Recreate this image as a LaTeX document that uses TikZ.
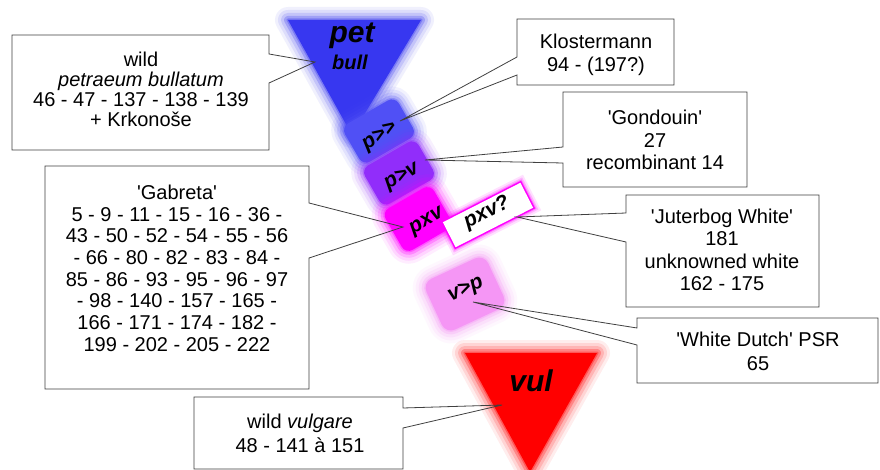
\documentclass[tikz,border=0pt]{standalone}
\usepackage{fontspec}
\setmainfont{Liberation Sans}
\newcommand\sq{\textquotesingle}
\definecolor{petblue}{RGB}{55,55,240}
\definecolor{pblue}{RGB}{80,80,245}
\definecolor{pviolet}{RGB}{145,45,250}
\definecolor{pmag}{RGB}{255,0,255}
\definecolor{ppink}{RGB}{245,150,245}
\definecolor{vred}{RGB}{255,0,0}
\definecolor{linegray}{RGB}{64,64,64}
\newcommand\softfill[2]{%
  \foreach \w/\o in {26/0.07,20/0.1,14/0.15,8/0.25,3/0.35}{%
    \path[draw=#1,line width=\w pt,draw opacity=\o,line join=round] #2;}%
  \fill[#1] #2;}
\tikzset{
  call/.style={draw=linegray, line width=0.8pt, line join=miter},
  calltext/.style={align=center, inner sep=0pt, anchor=base},
  lab/.style={font=\fontsize{21}{24}\selectfont\bfseries\itshape, inner sep=0pt},
}
\begin{document}
\begin{tikzpicture}[x=1pt,y=-1pt]
\useasboundingbox[fill=white] (0,0) rectangle (880,470);
% coloured shapes
\softfill{petblue}{(288,20) -- (421,20) -- (352,135) -- cycle}
\begin{scope}[shift={(379,131)},rotate=30]
  \softfill{pblue}{[rounded corners=8pt] (-31,-22) rectangle (31,22)}
\end{scope}
\begin{scope}[shift={(399,173)},rotate=30]
  \softfill{pviolet}{[rounded corners=8pt] (-31,-22) rectangle (31,22)}
\end{scope}
\begin{scope}[shift={(418,219)},rotate=30]
  \softfill{pmag}{[rounded corners=8pt] (-28,-24) rectangle (28,24)}
\end{scope}
\begin{scope}[shift={(465,294)},rotate=25]
  \softfill{ppink}{[rounded corners=10pt] (-34,-28) rectangle (34,28)}
\end{scope}
\softfill{vred}{(465,353) -- (597,353) -- (530,472) -- cycle}
\begin{scope}[shift={(488,215)},rotate=27]
  \foreach \w/\o in {10/0.12,6/0.2,3/0.35}{%
    \draw[pmag,line width=\w pt,opacity=\o] (-44.5,-15) rectangle (44.5,15);}
  \fill[pmag] (-45,-15.5) rectangle (45,15.5);
  \fill[white] (-43.5,-14) rectangle (43.5,14);
\end{scope}
% labels
\node[font=\fontsize{30}{30}\selectfont\bfseries\itshape, anchor=base] (pet) at (352,43) {pet};
\node[font=\fontsize{20}{20}\selectfont\bfseries\itshape, anchor=base] (bull) at (350,70) {bull};
\node[font=\fontsize{30}{30}\selectfont\bfseries\itshape, anchor=base] (vul) at (531,391) {vul};
\node[lab, rotate=33] (pgg) at (380,137) {p>{}>};
\node[lab, rotate=30] (pgv) at (402,177) {p>v};
\node[lab, rotate=30] (pxv) at (427,222) {pxv};
\node[lab, rotate=27] (pxvq) at (487,213) {pxv?};
\node[lab, rotate=25] (vgp) at (466,290) {v>p};
% callout tips
\coordinate (tipPet) at (315,62);
\coordinate (tipK) at (400,121);
\coordinate (tipG) at (425,160);
\coordinate (tipGab) at (403,227);
\coordinate (tipJ) at (517,217);
\coordinate (tipW) at (473,302);
\coordinate (tipV) at (502,405);
% callouts
\draw[call] (12,35) -- (269,35) -- (269,54) -- (tipPet) -- (269,83) -- (269,150) -- (12,150) -- cycle;
\draw[call] (517,19) -- (674,19) -- (674,85) -- (517,85) -- (517,75) -- (tipK) -- (517,57) -- cycle;
\draw[call] (563,92) -- (747,92) -- (747,187) -- (563,187) -- (563,163) -- (tipG) -- (563,147) -- cycle;
\draw[call] (45,166) -- (309,166) -- (309,203) -- (tipGab) -- (309,258) -- (309,389) -- (45,389) -- cycle;
\draw[call] (626,195) -- (819,195) -- (819,307) -- (626,307) -- (626,242) -- (tipJ) -- (626,213) -- cycle;
\draw[call] (637,318) -- (878,318) -- (878,383) -- (637,383) -- (637,345) -- (tipW) -- (637,328) -- cycle;
\draw[call] (194,397) -- (403,397) -- (403,408) -- (tipV) -- (403,428) -- (403,469) -- (194,469) -- cycle;
% callout texts (anchored at the baseline of the last line)
\node[calltext, font=\fontsize{20}{20}\selectfont] (tPet) at (141,127) {wild\\\textit{petraeum bullatum}\\46 - 47 - 137 - 138 - 139\\+ Krkonoše};
\node[calltext, font=\fontsize{20}{23.3}\selectfont] (tK) at (596,71.7) {Klostermann\\94 - (197?)};
\node[calltext, font=\fontsize{20}{22.5}\selectfont] (tG) at (655,170) {\sq Gondouin\sq\\27\\recombinant 14};
\node[calltext, font=\fontsize{20}{21.7}\selectfont] (tGab) at (177,351.2) {\sq Gabreta\sq\\5 - 9 - 11 - 15 - 16 - 36 -\\43 - 50 - 52 - 54 - 55 - 56\\- 66 - 80 - 82 - 83 - 84 -\\85 - 86 - 93 - 95 - 96 - 97\\- 98 - 140 - 157 - 165 -\\166 - 171 - 174 - 182 -\\199 - 202 - 205 - 222};
\node[calltext, font=\fontsize{20}{22.5}\selectfont] (tJ) at (722,290.8) {\sq Juterbog White\sq\\181\\unknowned white\\162 - 175};
\node[calltext, font=\fontsize{20}{23.3}\selectfont] (tW) at (758,370) {\sq White Dutch\sq{} PSR\\65};
\node[calltext, font=\fontsize{20}{24.4}\selectfont] (tV) at (300,452.7) {wild \textit{vulgare}\\48 - 141 à 151};
\end{tikzpicture}
\end{document}
